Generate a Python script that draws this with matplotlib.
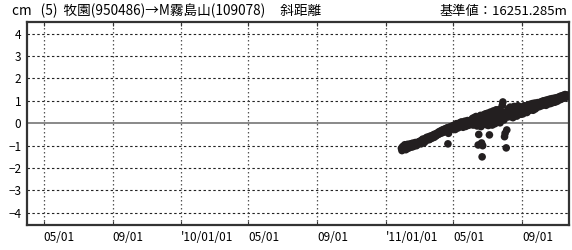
import matplotlib
matplotlib.use("Agg")
import matplotlib.pyplot as plt
import numpy as np
import pandas as pd

plt.rcParams['font.family'] = ['Noto Sans CJK JP', 'DejaVu Sans']

title_left = "cm   (5)  牧園(950486)→M霧島山(109078)     斜距離"
title_right = "基準値：16251.285m"

start_date = "2011-01-29"
v_jan = [-1.12, -1.22, -1.05]
v_feb = [-1.15, -1.02, -1.10, -0.96, -1.08, -1.18, -1.00, -1.06, -0.94, -1.12, -1.03, -0.98, -1.08, -0.92,
         -1.01, -0.95, -1.06, -0.89, -0.98, -1.03, -0.91, -0.97, -0.86, -0.94, -1.00, -0.88, -0.93, -0.84]
v_mar = [-0.90, -0.82, -0.87, -0.79, -0.92, -0.76, -0.84, -0.71, -0.80, -0.74, -0.86, -0.69, -0.78, -0.72,
         -0.63, -0.75, -0.66, -0.70, -0.60, -0.73, -0.64, -0.57, -0.68, -0.61, -0.55, -0.65, -0.58, -0.50,
         -0.62, -0.54, -0.48]
v_apr = [-0.56, -0.46, -0.52, -0.42, -0.49, -0.38, -0.47, -0.40, -0.34, -0.44, -0.37, -0.30, -0.41, -0.33,
         -0.27, -0.38, -0.31, -0.24, -0.35, -0.28, -0.20, -0.92, -0.45, -0.25, -0.17, -0.29, -0.21, -0.14,
         -0.26, -0.18]
v_may = [-0.22, -0.10, -0.19, -0.08, -0.28, -0.13, -0.02, -0.17, -0.09, -0.21, -0.04, -0.12, 0.02, -0.15,
         -0.06, 0.06, -0.10, -0.01, -0.18, 0.04, -0.07, 0.09, -0.03, -0.14, 0.07, -0.05, 0.12, 0.00, -0.09,
         0.10, 0.03]
v_jun = [0.08, -0.05, 0.15, 0.02, 0.22, -0.08, 0.10, 0.25, -0.02, 0.12, 0.30, 0.04, -0.12, 0.18, -0.97,
         -0.50, 0.28, 0.06, 0.35, -0.15, -0.88, -1.50, -1.00, 0.20, 0.38, 0.00, 0.14, 0.42, -0.06, 0.24]
v_jul = [0.10, 0.45, -0.10, 0.30, -0.52, 0.18, 0.50, 0.05, 0.35, -0.08, 0.22, 0.55, 0.12, 0.40, -0.02,
         0.28, 0.60, 0.15, 0.36, 0.08, 0.48, 0.25, 0.62, 0.02, 0.32, 0.52, 0.20, 0.80, 0.95, 0.38, 0.15]
v_aug = [-0.60, -0.45, 0.42, -1.10, -0.30, 0.55, 0.28, 0.65, 0.35, 0.48, 0.72, 0.30, 0.58, 0.40, 0.68,
         0.25, 0.52, 0.75, 0.38, 0.60, 0.45, 0.70, 0.32, 0.56, 0.78, 0.44, 0.62, 0.50, 0.72, 0.40, 0.58]
v_sep = [0.55, 0.70, 0.42, 0.62, 0.78, 0.50, 0.66, 0.58, 0.74, 0.48, 0.64, 0.82, 0.56, 0.70, 0.62, 0.85,
         0.60, 0.72, 0.66, 0.88, 0.58, 0.76, 0.70, 0.90, 0.64, 0.78, 0.82, 0.72, 0.92, 0.76]
v_oct = [0.84, 0.74, 0.90, 0.80, 0.96, 0.78, 0.88, 0.84, 1.00, 0.82, 0.92, 0.86, 1.02, 0.80, 0.94, 0.90,
         1.05, 0.86, 0.96, 0.92, 1.08, 0.88, 1.00, 0.95, 1.10, 0.92, 1.04, 0.98, 1.12, 0.94, 1.06]
v_nov = [1.02, 1.14, 0.98, 1.08, 1.16, 1.04, 1.12, 1.20, 1.06, 1.15, 1.22, 1.10, 1.18, 1.25, 1.12, 1.20,
         1.28, 1.16, 1.24, 1.18, 1.26, 1.22]

tick_dates = ["2009-05-01", "2009-09-01", "2010-01-01", "2010-05-01", "2010-09-01",
              "2011-01-01", "2011-05-01", "2011-09-01"]
tick_labels = ["05/01", "09/01", "'10/01/01", "05/01", "09/01", "'11/01/01", "05/01", "09/01"]
y_ticks = [-4, -3, -2, -1, 0, 1, 2, 3, 4]

values = v_jan + v_feb + v_mar + v_apr + v_may + v_jun + v_jul + v_aug + v_sep + v_oct + v_nov
dates = pd.date_range(start_date, periods=len(values), freq="D")

fig = plt.figure(figsize=(5.72, 2.5), dpi=100)
ax = fig.add_axes([27/572, 1 - 224.5/250, (569 - 27)/572, (224.5 - 22)/250])

ax.set_xlim(pd.Timestamp("2009-04-01"), pd.Timestamp("2011-11-24"))
ax.set_ylim(-4.52, 4.52)

for y in y_ticks:
    if y != 0:
        ax.axhline(y, color="#222222", lw=0.8, ls=(0, (2.2, 2.2)), zorder=1)
for d in tick_dates:
    ax.axvline(pd.Timestamp(d), color="#555555", lw=0.9, ls=(0, (1.2, 2.0)), zorder=1)
ax.axhline(0, color="#6a6a6a", lw=1.1, zorder=2)

ax.scatter(dates, values, s=30, color="#231f20", edgecolors="none", zorder=3)

ax.set_xticks([pd.Timestamp(d) for d in tick_dates])
ax.set_xticklabels(tick_labels, ha="left", fontsize=8.5)
ax.tick_params(axis="x", direction="in", length=3, pad=5, top=True, color="#333333")
ax.set_yticks(y_ticks)
ax.set_yticklabels([str(v).replace("-", "−") for v in y_ticks], fontsize=8.5)
ax.tick_params(axis="y", length=0, pad=4)

for s in ax.spines.values():
    s.set_color("#333333")
    s.set_linewidth(1.6)

fig.text(12/572, 1 - 11/250, title_left, fontsize=9.8, va="center", ha="left")
fig.text(567/572, 1 - 11/250, title_right, fontsize=9.5, va="center", ha="right")

fig.savefig("out.png", dpi=100)
